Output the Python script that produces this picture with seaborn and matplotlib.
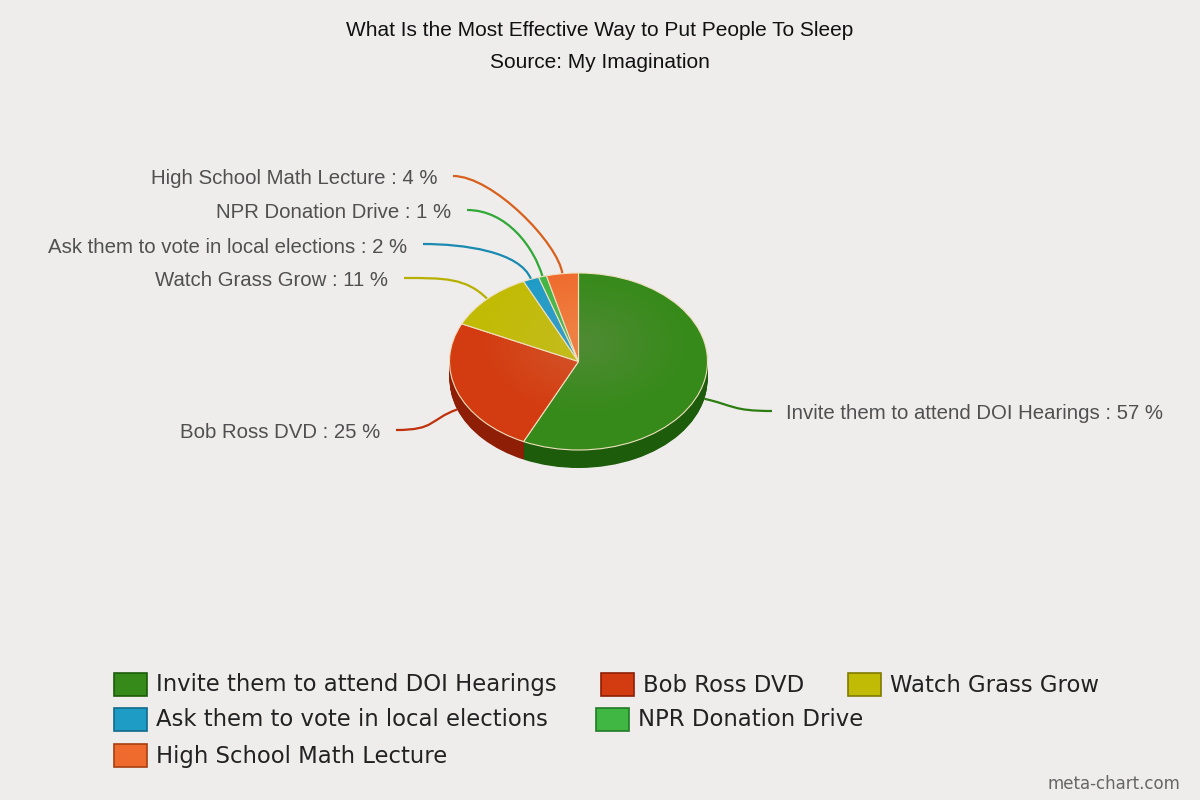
import numpy as np
import matplotlib.pyplot as plt
import seaborn as sns
from matplotlib.path import Path
from matplotlib.patches import PathPatch, Rectangle

# data
categories = ['Invite them to attend DOI Hearings', 'Bob Ross DVD', 'Watch Grass Grow',
              'Ask them to vote in local elections', 'NPR Donation Drive',
              'High School Math Lecture']
shares = [57, 25, 11, 2, 1, 4]
top_colors = ['#358a19', '#d33b10', '#c2bb05', '#1f9cc6', '#40b643', '#ee6b2d']
side_colors = ['#1d5c0b', '#8e1f06', '#7f7a02', '#126a8a', '#237a26', '#a8400f']
line_colors = ['#2d7d12', '#c0300c', '#b8b000', '#1a8ab0', '#30a836', '#d8601c']

title = 'What Is the Most Effective Way to Put People To Sleep'
subtitle = 'Source: My Imagination'

sns.set_theme(style='white')
plt.rcParams['font.family'] = ['Liberation Sans', 'DejaVu Sans']

bg = '#eeedec'
W, H = 1200, 800
fig = plt.figure(figsize=(12, 8), dpi=100, facecolor=bg)

# overlay axes in pixel coords (for connector lines)
ov = fig.add_axes([0, 0, 1, 1], zorder=1)
ov.set_xlim(0, W)
ov.set_ylim(H, 0)
ov.axis('off')

# pie geometry (pixels)
cx, cy, rx, ry, depth = 578.5, 361.5, 129, 88.5, 18
ax = fig.add_axes([(cx - rx) / W, (H - cy - ry - depth) / H, 2 * rx / W, (2 * ry + depth) / H],
                  zorder=2)
ax.patch.set_alpha(0)

# side of the pie: stacked darker layers
nlayers = 24
for k in range(nlayers, 0, -1):
    ax.pie(shares, colors=side_colors, startangle=90, counterclock=False,
           center=(0, -k * depth / ry / nlayers), radius=1, frame=True,
           wedgeprops=dict(linewidth=0))
# top face
wedges, _ = ax.pie(shares, colors=top_colors, startangle=90, counterclock=False,
                   center=(0, 0), radius=1, frame=True,
                   wedgeprops=dict(linewidth=0.8, edgecolor='#f0e0c0'))
# soft highlight on top face
for r in np.linspace(0.8, 0.08, 24):
    ax.pie([1], colors=['white'], center=(0.05, 0.2), radius=r, frame=True,
           wedgeprops=dict(linewidth=0, alpha=0.008))
ax.set_aspect('auto')
ax.set_xlim(-1, 1)
ax.set_ylim(-1 - depth / ry, 1)
ax.axis('off')

# labels and connectors (text anchor positions in pixels)
label_pos = [(786, 412, 'left'), (380, 431, 'right'), (388, 279, 'right'),
             (407, 245, 'right'), (451, 211, 'right'), (437, 177, 'right')]
total = sum(shares)
start = 90.0
for i, (name, val) in enumerate(zip(categories, shares)):
    span = val / total * 360
    mid = np.deg2rad(start - span / 2)
    start -= span
    axp = cx + rx * np.cos(mid)
    ayp = cy - ry * np.sin(mid) + (depth if np.sin(mid) < 0 else 0)
    tx, ty, ha = label_pos[i]
    sx = tx - 14 if ha == 'left' else tx + 16
    sy = ty - 1
    dirx = -1 if ha == 'left' else 1
    p1 = (sx + dirx * 40, sy)
    p2 = (axp + np.cos(mid) * 30, ayp - np.sin(mid) * 30)
    path = Path([(sx, sy), p1, p2, (axp, ayp)],
                [Path.MOVETO, Path.CURVE4, Path.CURVE4, Path.CURVE4])
    ov.add_patch(PathPatch(path, facecolor='none', edgecolor=line_colors[i], lw=1.6))
    fig.text(tx / W, 1 - (ty + 2) / H, f'{name} : {val} %', ha=ha, va='center',
             fontsize=14.7, color='#505050')

# title
fig.text(0.5, 1 - 31 / H, title, ha='center', va='center', fontsize=15, color='#111111')
fig.text(0.5, 1 - 63 / H, subtitle, ha='center', va='center', fontsize=15, color='#111111')

# legend (flow layout, row-major)
legend_slots = [(114, 684), (601, 684), (848, 684), (114, 719), (596, 719), (114, 755)]
for i, name in enumerate(categories):
    lx, ly = legend_slots[i]
    fig.patches.append(Rectangle((lx / W, 1 - (ly + 11.5) / H), 33 / W, 23 / H,
                                 transform=fig.transFigure, facecolor=top_colors[i],
                                 edgecolor=side_colors[i], lw=1.2))
    fig.text((lx + 42) / W, 1 - (ly + 1) / H, name, ha='left', va='center',
             fontsize=16.4, color='#222222', family='DejaVu Sans')

fig.text(1180 / W, 1 - 784 / H, 'meta-chart.com', ha='right', va='center',
         fontsize=12, color='#666666', family='DejaVu Sans')

fig.savefig('out.png', dpi=100, facecolor=bg)
